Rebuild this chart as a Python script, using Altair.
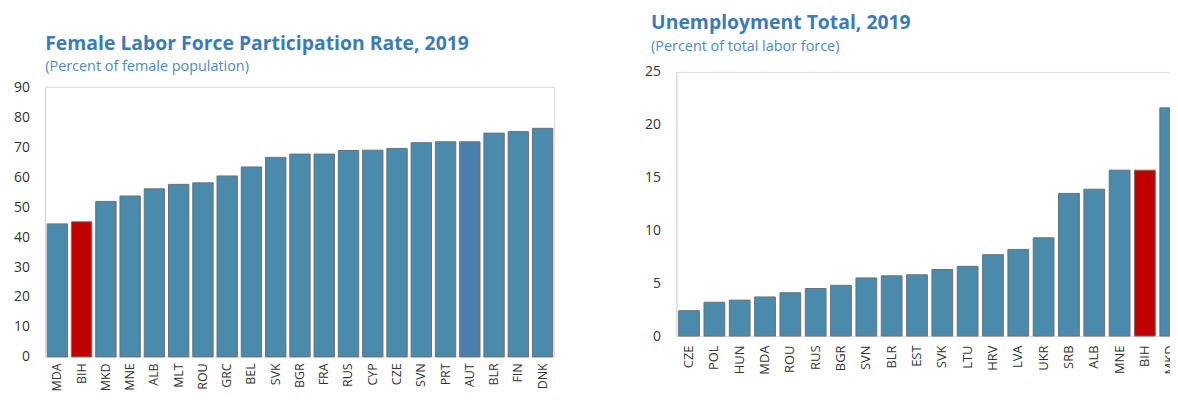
import altair as alt
import pandas as pd

# Female labor force participation rate, 2019 (percent of female population)
lfp_countries = ["MDA", "BIH", "MKD", "MNE", "ALB", "MLT", "ROU", "GRC", "BEL", "SVK", "BGR",
                 "FRA", "RUS", "CYP", "CZE", "SVN", "PRT", "AUT", "BLR", "FIN", "DNK"]
lfp_values = [44.4, 45.1, 51.9, 53.7, 56.1, 57.6, 58.1, 60.4, 63.4, 66.6, 67.7,
              67.7, 68.9, 69.0, 69.6, 71.5, 71.8, 71.8, 74.7, 75.2, 76.3]
lfp_ticks = [0, 10, 20, 30, 40, 50, 60, 70, 80, 90]

# Unemployment total, 2019 (percent of total labor force)
unemp_countries = ["CZE", "POL", "HUN", "MDA", "ROU", "RUS", "BGR", "SVN", "BLR", "EST",
                   "SVK", "LTU", "HRV", "LVA", "UKR", "SRB", "ALB", "MNE", "BIH", "MKD"]
unemp_values = [2.4, 3.2, 3.4, 3.7, 4.1, 4.5, 4.8, 5.5, 5.7, 5.8,
                6.3, 6.6, 7.7, 8.2, 9.3, 13.5, 13.9, 15.7, 15.7, 21.6]
unemp_ticks = [0, 5, 10, 15, 20, 25]

FONT = "Open Sans"
TITLE_COLOR = "#3d7bb4"
SUB_COLOR = "#4d8ac6"
LABEL_COLOR = "#333333"
FRAME = "#d9d9d9"

lfp_df = pd.DataFrame({"country": lfp_countries, "value": lfp_values})
unemp_df = pd.DataFrame({"country": unemp_countries, "value": unemp_values})


def x_enc(scale, font_size, pad):
    return alt.X(
        "country:N",
        sort=None,
        title=None,
        scale=scale,
        axis=alt.Axis(
            labelAngle=-90,
            labelFontSize=font_size,
            labelColor=LABEL_COLOR,
            labelFont=FONT,
            labelPadding=pad,
            ticks=False,
            domain=False,
        ),
    )


def y_axis(ticks):
    return alt.Axis(
        values=ticks,
        labelFontSize=14,
        labelColor=LABEL_COLOR,
        labelFont=FONT,
        labelPadding=16,
        labelOverlap=False,
        ticks=False,
        domainColor=FRAME,
        grid=False,
    )


def bars(df, xscale, yscale, ticks, grp_range, xfont, xpad):
    return (
        alt.Chart(df)
        .transform_calculate(
            grp="datum.country == 'BIH' ? 'BIH' : (datum.country == 'AUT' ? 'AUT' : 'other')"
        )
        .mark_bar(stroke="#707070", strokeWidth=1)
        .encode(
            x=x_enc(xscale, xfont, xpad),
            y=alt.Y("value:Q", title=None, scale=yscale, axis=y_axis(ticks)),
            color=alt.Color(
                "grp:N",
                scale=alt.Scale(domain=["other", "BIH", "AUT"], range=grp_range),
                legend=None,
            ),
        )
    )


# ---- left panel (its plot frame starts lower than the right one) ----
LW = 513
LH = 287
left_yscale = alt.Scale(domain=[0, 90], nice=False, range=[LH, 15.5])
left_bars = bars(
    lfp_df,
    alt.Scale(paddingInner=0.16, paddingOuter=0.08),
    left_yscale,
    lfp_ticks,
    ["#4a8aab", "#c00000", "#4a7fad"],
    12.5,
    6,
)
left_frame = (
    alt.Chart(pd.DataFrame({"top": [lfp_ticks[-1]], "bottom": [lfp_ticks[0]]}))
    .mark_rect(fillOpacity=0, stroke=FRAME, strokeWidth=1)
    .encode(
        x=alt.value(0),
        x2=alt.value(LW),
        y=alt.Y("top:Q", title=None, scale=left_yscale, axis=y_axis(lfp_ticks)),
        y2="bottom:Q",
    )
)
left = alt.layer(left_frame, left_bars).properties(
    width=LW,
    height=LH,
    view=alt.ViewBackground(strokeOpacity=0),
    title=alt.TitleParams(
        text="Female Labor Force Participation Rate, 2019",
        subtitle="(Percent of female population)",
        anchor="start",
        frame="group",
        font=FONT,
        fontSize=19.5,
        fontWeight="bold",
        color=TITLE_COLOR,
        subtitleFont=FONT,
        subtitleFontSize=14.5,
        subtitleColor=SUB_COLOR,
        subtitlePadding=6,
        offset=18,
        dy=21,
    ),
)

# ---- right panel ----
right = bars(
    unemp_df,
    alt.Scale(paddingInner=0.18, paddingOuter=0.09),
    alt.Scale(domain=[0, 25], nice=False),
    unemp_ticks,
    ["#4a7fad", "#c00000", "#4a7fad"],
    13,
    9,
).properties(
    width=510,
    height=266,
    title=alt.TitleParams(
        text="Unemployment Total, 2019",
        subtitle="(Percent of total labor force)",
        anchor="start",
        frame="group",
        font=FONT,
        fontSize=19.5,
        fontWeight="bold",
        color=TITLE_COLOR,
        subtitleFont=FONT,
        subtitleFontSize=14.5,
        subtitleColor=SUB_COLOR,
        subtitlePadding=6,
        offset=11,
        dx=-25.5,
    ),
)

# autosize "none": the picture is exactly padding-sized, so the right panel is
# cropped at the window edge, as in the reference.
chart = (
    alt.hconcat(left, right, spacing=88.5)
    .properties(
        autosize=alt.AutoSizeParams(type="none"),
        padding={"left": 37.5, "top": 63, "right": 1132.5, "bottom": 320},
    )
    .configure_view(stroke=FRAME, strokeWidth=1)
    .configure(background="white")
)

chart.save("out.html", embed_options={"renderer": "svg", "actions": False})
